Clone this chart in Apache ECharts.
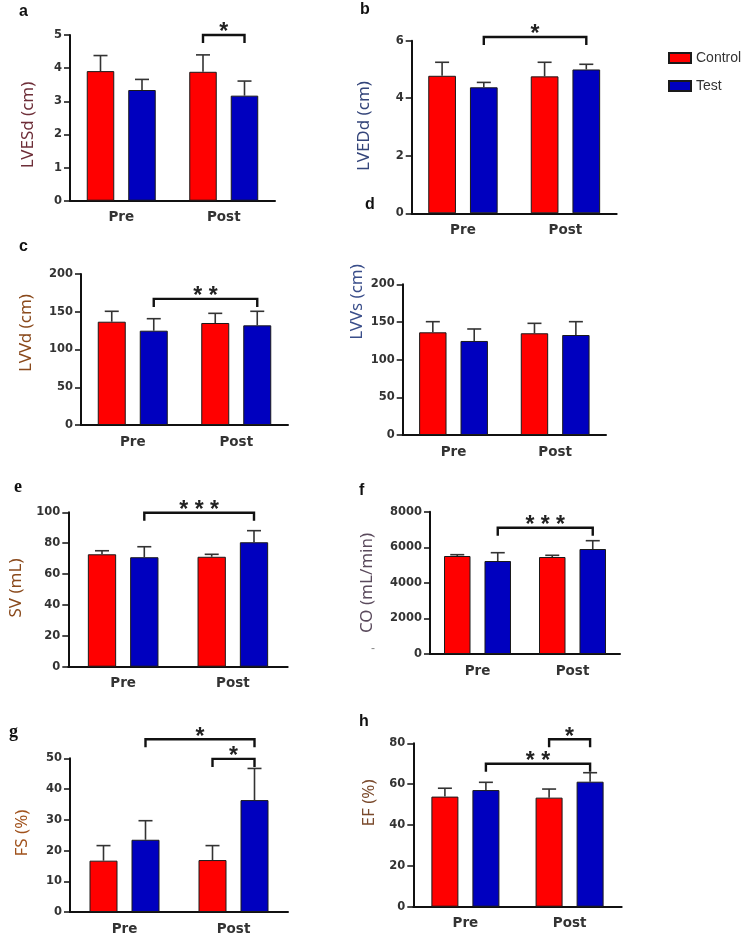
<!DOCTYPE html>
<html>
<head>
<meta charset="utf-8">
<script src="https://cdn.jsdelivr.net/npm/echarts@6/dist/echarts.min.js"></script>
<style>html,body{margin:0;padding:0;background:#fff}#c{width:751px;height:936px}</style>
</head>
<body>
<div id="c"></div>
<script>
// ---------- data ----------
const categories = ['Pre', 'Post'];
const seriesNames = ['Control', 'Test'];

const lvesdControl = [3.91, 3.89], lvesdControlErr = [0.47, 0.51];
const lvesdTest    = [3.34, 3.17], lvesdTestErr    = [0.32, 0.44];

const lveddControl = [4.78, 4.76], lveddControlErr = [0.47, 0.49];
const lveddTest    = [4.38, 5.00], lveddTestErr    = [0.17, 0.18];

const lvvdControl = [136.8, 135.1], lvvdControlErr = [13.8, 12.8];
const lvvdTest    = [124.9, 132.0], lvvdTestErr    = [15.9, 18.6];

const lvvsControl = [136.3, 135.0], lvvsControlErr = [14.1, 13.2];
const lvvsTest    = [124.8, 132.7], lvvsTestErr    = [15.9, 17.7];

const svControl = [72.8, 71.2], svControlErr = [2.3, 1.6];
const svTest    = [70.9, 80.6], svTestErr    = [6.8, 7.5];

const coControl = [5509, 5453], coControlErr = [74, 96];
const coTest    = [5228, 5903], coTestErr    = [467, 467];

const fsControl = [16.7, 16.9], fsControlErr = [4.9, 4.7];
const fsTest    = [23.5, 36.4], fsTestErr    = [6.2, 10.3];

const efControl = [53.9, 53.4], efControlErr = [4.1, 4.2];
const efTest    = [57.1, 61.2], efTestErr    = [3.8, 4.4];

// significance: [fromCategory, fromSeries, toCategory, toSeries, level, label]
const lvesdSig = [[1, 0, 1, 1, 5.0, '*']];
const lveddSig = [[0, 1, 1, 1, 6.13, '*']];
const lvvdSig  = [[0, 1, 1, 1, 167, '* *']];
const lvvsSig  = [];
const svSig    = [[0, 1, 1, 1, 99.7, '* * *']];
const coSig    = [[0, 1, 1, 1, 7100, '* * *']];
const fsSig    = [[0, 1, 1, 1, 56.2, '*'], [1, 0, 1, 1, 49.8, '*']];
const efSig    = [[0, 1, 1, 1, 70, '* *'], [1, 0, 1, 1, 82, '*']];

// y-axis settings (tick labels)
const yMax      = [5, 6, 200, 200, 100, 8000, 50, 80];
const yInterval = [1, 2, 50, 50, 20, 2000, 10, 20];

const panelLetters = ['a', 'b', 'c', 'd', 'e', 'f', 'g', 'h'];
const yTitles = ['LVESd (cm)', 'LVEDd (cm)', 'LVVd (cm)', 'LVVs (cm)', 'SV (mL)', 'CO (mL/min)', 'FS (%)', 'EF (%)'];

const panelData = [
  [lvesdControl, lvesdControlErr, lvesdTest, lvesdTestErr, lvesdSig],
  [lveddControl, lveddControlErr, lveddTest, lveddTestErr, lveddSig],
  [lvvdControl, lvvdControlErr, lvvdTest, lvvdTestErr, lvvdSig],
  [lvvsControl, lvvsControlErr, lvvsTest, lvvsTestErr, lvvsSig],
  [svControl, svControlErr, svTest, svTestErr, svSig],
  [coControl, coControlErr, coTest, coTestErr, coSig],
  [fsControl, fsControlErr, fsTest, fsTestErr, fsSig],
  [efControl, efControlErr, efTest, efTestErr, efSig]
];

// ---------- layout / style ----------
const layout = [
  {l: 70,    r: 275,   t: 35,    b: 200.7, bw: 27.5, lx: 25,  ly: 13,  tx: 28,  ty: 125, tc: '#6e2e38'},
  {l: 411.7, r: 616.7, t: 40.7,  b: 213.3, bw: 27.7, lx: 366, ly: 11,  tx: 364, ty: 126, tc: '#34457a'},
  {l: 81,    r: 288,   t: 274,   b: 425,   bw: 28,   lx: 25,  ly: 248, tx: 26,  ty: 333, tc: '#8a4a1c'},
  {l: 402.7, r: 606,   t: 284.3, b: 435,   bw: 27.4, lx: 371, ly: 206, tx: 357, ty: 302, tc: '#3a4e8a'},
  {l: 68.3,  r: 287.7, t: 512.3, b: 666.7, bw: 28.3, lx: 20,  ly: 487, tx: 16,  ty: 588, tc: '#8a4a1c'},
  {l: 430,   r: 620,   t: 511.7, b: 654,   bw: 26.5, lx: 365, ly: 492, tx: 367, ty: 583, tc: '#5a4a5c'},
  {l: 70,    r: 288,   t: 758.3, b: 914.3, bw: 28,   lx: 15,  ly: 732, tx: 22,  ty: 833, tc: '#a0521c'},
  {l: 413.3, r: 621.7, t: 743.3, b: 906.7, bw: 27,   lx: 365, ly: 723, tx: 369, ty: 803, tc: '#7a4a2c'}
];
const barGapPx = 14;
const RED = '#ff0000', BLUE = '#0000bf', EDGE = '#1a1a1a';
const FONT_TICK = 'DejaVu Sans';

const grid = [], xAxis = [], yAxis = [], series = [], graphic = [];

function barOffset(i, s) {
  const w = layout[i].bw;
  const half = (w + barGapPx) / 2;
  return s === 0 ? -half : half;
}

panelData.forEach((pd, i) => {
  const L = layout[i];
  grid.push({left: L.l, top: L.t, width: L.r - L.l, height: L.b - L.t, containLabel: false});
  xAxis.push({
    type: 'category', gridIndex: i, data: categories,
    axisLine: {lineStyle: {color: '#111', width: 2}},
    axisTick: {alignWithLabel: true, length: 5, lineStyle: {color: '#111', width: 2}},
    axisLabel: {margin: 10, fontFamily: FONT_TICK, fontWeight: 'bold', fontSize: 13.5, color: '#333'}
  });
  yAxis.push({
    type: 'value', gridIndex: i, min: 0, max: yMax[i], interval: yInterval[i],
    splitLine: {show: false},
    axisLine: {show: true, lineStyle: {color: '#111', width: 2}},
    axisTick: {show: true, length: 6, lineStyle: {color: '#111', width: 1.5}},
    axisLabel: {margin: 8, fontFamily: FONT_TICK, fontWeight: 'bold', fontSize: 11.5, color: '#333',
                formatter: v => String(v)}
  });
  const [cVals, cErr, tVals, tErr, sig] = pd;
  const gapRatio = (barGapPx / L.bw * 100).toFixed(1) + '%';
  [[cVals, RED, 0], [tVals, BLUE, 1]].forEach(([vals, col, s]) => {
    series.push({
      type: 'bar', name: seriesNames[s], xAxisIndex: i, yAxisIndex: i,
      data: vals, barWidth: L.bw, barGap: gapRatio,
      itemStyle: {color: col, borderColor: EDGE, borderWidth: 1},
      emphasis: {disabled: true}, z: 2
    });
  });
  // error bars
  [[cVals, cErr, 0], [tVals, tErr, 1]].forEach(([vals, errs, s]) => {
    series.push({
      type: 'custom', name: 'err' + s, xAxisIndex: i, yAxisIndex: i, z: 3,
      data: vals.map((v, k) => [k, v, errs[k]]),
      encode: {x: 0, y: 1},
      renderItem: function (params, api) {
        const k = api.value(0), m = api.value(1), e = api.value(2);
        const p0 = api.coord([k, m]), p1 = api.coord([k, m + e]);
        const x = p0[0] + barOffset(i, s);
        return {type: 'group', children: [
          {type: 'line', shape: {x1: x, y1: p0[1], x2: x, y2: p1[1]}, style: {stroke: '#333', lineWidth: 1.6}},
          {type: 'line', shape: {x1: x - 7, y1: p1[1], x2: x + 7, y2: p1[1]}, style: {stroke: '#333', lineWidth: 1.6}}
        ]};
      }
    });
  });
  // significance brackets
  if (sig.length) {
    series.push({
      type: 'custom', name: 'sig', xAxisIndex: i, yAxisIndex: i, z: 4, clip: false,
      data: sig.map(d => [d[0], d[4], d[2], d[1], d[3], d[5]]),
      encode: {x: 0, y: 1},
      renderItem: function (params, api) {
        const d = sig[params.dataIndex];
        const a = api.coord([api.value(0), api.value(1)]);
        const b = api.coord([api.value(2), api.value(1)]);
        const x1 = a[0] + barOffset(i, d[1]);
        const x2 = b[0] + barOffset(i, d[3]);
        const y = a[1];
        return {type: 'group', children: [
          {type: 'polyline', shape: {points: [[x1, y + 8], [x1, y], [x2, y], [x2, y + 8]]},
           style: {stroke: '#111', lineWidth: 2.4, fill: null}},
          {type: 'text', x: (x1 + x2) / 2, y: y - 2,
           style: {text: d[5], align: 'center', verticalAlign: 'middle',
                   font: 'bold 23px "Liberation Sans"', fill: '#222'}}
        ]};
      }
    });
  }
  // panel letter
  const serif = (i === 4 || i === 6);
  graphic.push({type: 'text', left: L.lx - 6, top: L.ly - 9,
    style: {text: panelLetters[i], fill: '#111',
            font: serif ? 'bold 18px "Liberation Serif"' : 'bold 16px "Liberation Sans"'}});
  // y title
  graphic.push({type: 'text', x: L.tx, y: L.ty, rotation: Math.PI / 2,
    style: {text: yTitles[i], align: 'center', verticalAlign: 'middle',
            font: '17px "Noto Sans"', fill: L.tc}});
});

graphic.push({type: 'text', x: 373, y: 649, style: {text: '-', align: 'center', verticalAlign: 'middle', font: '12px "Liberation Sans"', fill: '#888'}});

const option = {
  animation: false,
  backgroundColor: '#fff',
  legend: {
    data: seriesNames, orient: 'vertical', left: 663, top: 46,
    icon: 'rect', itemWidth: 22, itemHeight: 10, itemGap: 14,
    textStyle: {fontFamily: 'Liberation Sans', fontSize: 14, color: '#333'},
    selectedMode: false
  },
  grid, xAxis, yAxis, series, graphic
};
const chart = echarts.init(document.getElementById('c'), null, {renderer: 'canvas'});
chart.setOption(option);
</script>
</body>
</html>
